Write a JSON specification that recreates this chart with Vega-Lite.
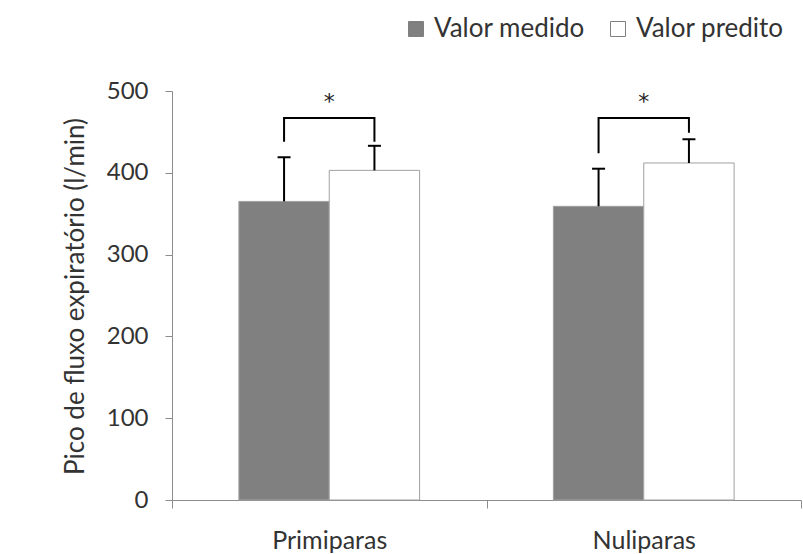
{
  "$schema": "https://vega.github.io/schema/vega-lite/v6.json",
  "width": 629,
  "height": 409,
  "autosize": "none",
  "padding": {"left": 172, "top": 91, "right": 2, "bottom": 54},
  "background": "white",
  "config": {
    "view": {"stroke": null},
    "font": "Lato",
    "text": {"font": "Lato"}
  },
  "datasets": {
    "bars": [
      {"group": "Primiparas", "series": "Valor medido", "value": 365, "err": 419},
      {"group": "Primiparas", "series": "Valor predito", "value": 403, "err": 433},
      {"group": "Nuliparas", "series": "Valor medido", "value": 359, "err": 405},
      {"group": "Nuliparas", "series": "Valor predito", "value": 412, "err": 441}
    ],
    "brackets": [
      {"group": "Primiparas", "series": "Valor medido", "y": 438, "ord": 1},
      {"group": "Primiparas", "series": "Valor medido", "y": 467, "ord": 2},
      {"group": "Primiparas", "series": "Valor predito", "y": 467, "ord": 3},
      {"group": "Primiparas", "series": "Valor predito", "y": 438, "ord": 4},
      {"group": "Nuliparas", "series": "Valor medido", "y": 424, "ord": 1},
      {"group": "Nuliparas", "series": "Valor medido", "y": 467, "ord": 2},
      {"group": "Nuliparas", "series": "Valor predito", "y": 467, "ord": 3},
      {"group": "Nuliparas", "series": "Valor predito", "y": 449, "ord": 4}
    ],
    "stars": [
      {"group": "Primiparas", "y": 486, "label": "*"},
      {"group": "Nuliparas", "y": 486, "label": "*"}
    ]
  },
  "layer": [
    {
      "data": {"name": "bars"},
      "mark": {"type": "bar", "stroke": "#a0a0a0", "strokeWidth": 1},
      "encoding": {
        "x": {
          "field": "group", "type": "nominal", "sort": ["Primiparas", "Nuliparas"],
          "scale": {"paddingInner": 0, "paddingOuter": 0},
          "axis": {
            "title": null, "labelAngle": 0, "tickBand": "extent", "tickSize": 8,
            "domainColor": "#8c8c8c", "tickColor": "#8c8c8c", "labelFontSize": 25,
            "labelColor": "#333333", "labelPadding": 20, "labelFont": "Lato"
          }
        },
        "xOffset": {
          "field": "series", "type": "nominal", "sort": ["Valor medido", "Valor predito"],
          "scale": {"paddingInner": 0, "paddingOuter": 0.74}
        },
        "y": {
          "field": "value", "type": "quantitative",
          "scale": {"domain": [0, 500], "nice": false},
          "axis": {
            "title": "Pico de fluxo expiratório (l/min)", "values": [0, 100, 200, 300, 400, 500],
            "grid": false, "tickSize": 7, "domainColor": "#8c8c8c", "tickColor": "#8c8c8c",
            "labelFontSize": 24, "labelColor": "#333333", "labelPadding": 17, "labelFont": "Lato",
            "titleFontSize": 26, "titleFont": "Lato", "titleColor": "#333333", "titleFontWeight": "normal",
            "titleX": -89, "titleY": 205, "titleBaseline": "alphabetic"
          }
        },
        "fill": {
          "field": "series", "type": "nominal",
          "scale": {"domain": ["Valor medido", "Valor predito"], "range": ["#808080", "#ffffff"]},
          "legend": {
            "title": null, "orient": "none", "direction": "horizontal", "legendX": 231, "legendY": -75,
            "symbolType": "square", "symbolSize": 225, "symbolStrokeColor": "#808080", "symbolStrokeWidth": 1,
            "labelFontSize": 26, "labelFont": "Lato", "labelColor": "#333333", "labelOffset": 5,
            "columnPadding": 20
          }
        },
        "stroke": {"value": "#a0a0a0"}
      }
    },
    {
      "data": {"name": "bars"},
      "mark": {"type": "rule", "color": "#000000", "strokeWidth": 2},
      "encoding": {
        "x": {"field": "group", "type": "nominal", "sort": ["Primiparas", "Nuliparas"]},
        "xOffset": {"field": "series", "type": "nominal", "sort": ["Valor medido", "Valor predito"]},
        "y": {"field": "value", "type": "quantitative"},
        "y2": {"field": "err"}
      }
    },
    {
      "data": {"name": "bars"},
      "mark": {"type": "tick", "color": "#000000", "thickness": 2, "size": 13, "orient": "horizontal", "opacity": 1},
      "encoding": {
        "x": {"field": "group", "type": "nominal", "sort": ["Primiparas", "Nuliparas"]},
        "xOffset": {"field": "series", "type": "nominal", "sort": ["Valor medido", "Valor predito"]},
        "y": {"field": "err", "type": "quantitative"}
      }
    },
    {
      "data": {"name": "brackets"},
      "mark": {"type": "line", "color": "#000000", "strokeWidth": 2},
      "encoding": {
        "x": {"field": "group", "type": "nominal", "sort": ["Primiparas", "Nuliparas"]},
        "xOffset": {"field": "series", "type": "nominal", "sort": ["Valor medido", "Valor predito"]},
        "y": {"field": "y", "type": "quantitative"},
        "order": {"field": "ord", "type": "quantitative"},
        "detail": {"field": "group", "type": "nominal"}
      }
    },
    {
      "data": {"name": "stars"},
      "mark": {"type": "text", "fontSize": 22, "font": "DejaVu Sans", "color": "#222222", "baseline": "middle"},
      "encoding": {
        "x": {"field": "group", "type": "nominal", "sort": ["Primiparas", "Nuliparas"]},
        "y": {"field": "y", "type": "quantitative"},
        "text": {"field": "label"}
      }
    }
  ]
}
